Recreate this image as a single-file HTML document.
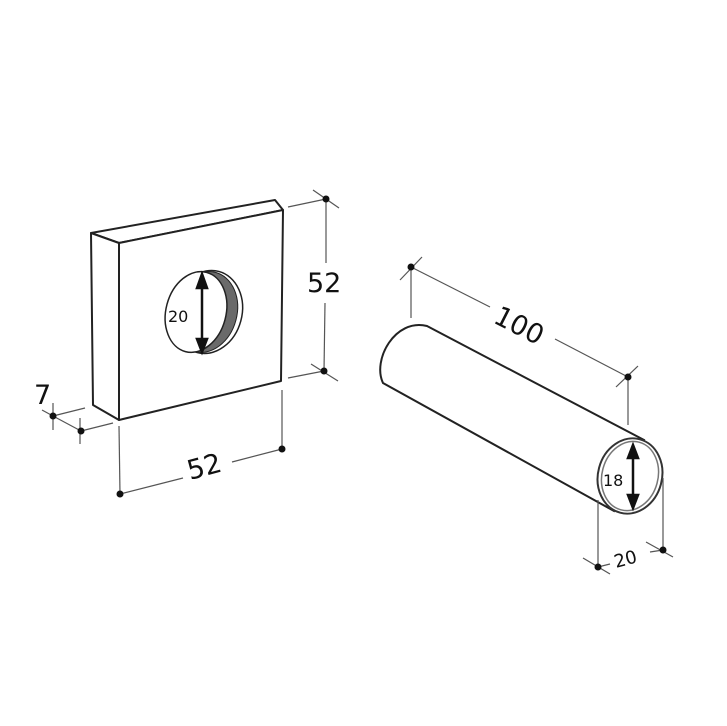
<!DOCTYPE html>
<html><head><meta charset="utf-8"><style>
html,body{margin:0;padding:0;background:#fff;width:727px;height:726px;overflow:hidden}
svg{display:block}
text{font-family:"DejaVu Sans","Liberation Sans",sans-serif;fill:#111}
</style></head><body>
<svg width="727" height="726" viewBox="0 0 727 726" xmlns="http://www.w3.org/2000/svg">
<g fill="none" stroke="#222" stroke-width="2" stroke-linejoin="round">
<path d="M91,233 L275,200 L283,210 L119,243 Z" fill="#fff"/>
<path d="M91,233 L119,243 L119,420 L93,405 Z" fill="#fff"/>
<path d="M119,243 L283,210 L281,381 L119,420 Z" fill="#fff"/>
</g>
<ellipse cx="208" cy="312" rx="34" ry="42" transform="rotate(15 208 312)" fill="#fff" stroke="#222" stroke-width="1.5"/>
<ellipse cx="205" cy="312" rx="32" ry="41" transform="rotate(15 205 312)" fill="#6a6a6a" stroke="#222" stroke-width="1"/>
<ellipse cx="196" cy="312" rx="30" ry="41" transform="rotate(15 196 312)" fill="#fff" stroke="#222" stroke-width="1.5"/>
<g stroke="#111" stroke-width="2.5" fill="#111">
<line x1="202" y1="285" x2="202" y2="342"/>
<path d="M202,274 L197,288 L207,288 Z"/>
<path d="M202,352 L197,339 L207,339 Z"/>
</g>
<text x="168" y="322" font-size="16">20</text>
<g stroke="#555" stroke-width="1.2" fill="none">
<line x1="288" y1="207" x2="326" y2="199"/>
<line x1="288" y1="378" x2="324" y2="371"/>
<line x1="326" y1="199" x2="326" y2="263"/>
<line x1="325" y1="303" x2="324" y2="371"/>
<line x1="313" y1="190" x2="339" y2="208"/>
<line x1="311" y1="364" x2="338" y2="381"/>
<line x1="119" y1="426" x2="120" y2="494"/>
<line x1="282" y1="390" x2="282" y2="449"/>
<line x1="120" y1="494" x2="183" y2="478"/>
<line x1="232" y1="462" x2="282" y2="449"/>
<line x1="53" y1="416" x2="85" y2="408"/>
<line x1="81" y1="431" x2="113" y2="423"/>
<line x1="53" y1="416" x2="81" y2="431"/>
<line x1="53" y1="403" x2="53" y2="430"/>
<line x1="80" y1="418" x2="80" y2="444"/>
<line x1="42" y1="410" x2="53" y2="416"/>
</g>
<g fill="#111">
<circle cx="326" cy="199" r="3.5"/><circle cx="324" cy="371" r="3.5"/>
<circle cx="120" cy="494" r="3.5"/><circle cx="282" cy="449" r="3.5"/>
<circle cx="53" cy="416" r="3.5"/><circle cx="81" cy="431" r="3.5"/>
</g>
<text x="307" y="292" font-size="27">52</text>
<text x="0" y="0" font-size="27" transform="translate(190,480) rotate(-15)">52</text>
<text x="34" y="404" font-size="27">7</text>
<g fill="#fff" stroke="#222" stroke-width="2">
<path d="M427,326 L644,440 L614,511 L383,383 C372,360 395,318 427,326 Z"/>
</g>
<ellipse cx="630" cy="476" rx="32" ry="38" transform="rotate(15 630 476)" fill="#fff" stroke="#333" stroke-width="2"/>
<ellipse cx="630" cy="476" rx="28" ry="35" transform="rotate(15 630 476)" fill="none" stroke="#777" stroke-width="1.5"/>
<g stroke="#111" stroke-width="2.5" fill="#111">
<line x1="633" y1="456" x2="633" y2="497"/>
<path d="M633,445 L628,458 L638,458 Z"/>
<path d="M633,508 L628,495 L638,495 Z"/>
</g>
<text x="603" y="486" font-size="16">18</text>
<g stroke="#555" stroke-width="1.2" fill="none">
<line x1="411" y1="267" x2="411" y2="318"/>
<line x1="628" y1="377" x2="628" y2="425"/>
<line x1="411" y1="267" x2="490" y2="307"/>
<line x1="555" y1="339" x2="628" y2="377"/>
<line x1="400" y1="280" x2="422" y2="257"/>
<line x1="616" y1="387" x2="638" y2="366"/>
<line x1="598" y1="500" x2="598" y2="567"/>
<line x1="663" y1="478" x2="663" y2="550"/>
<line x1="583" y1="558" x2="610" y2="574"/>
<line x1="646" y1="542" x2="673" y2="557"/>
<line x1="598" y1="567" x2="610" y2="564"/>
<line x1="650" y1="552" x2="663" y2="550"/>
</g>
<g fill="#111">
<circle cx="411" cy="267" r="3.5"/><circle cx="628" cy="377" r="3.5"/>
<circle cx="598" cy="567" r="3.5"/><circle cx="663" cy="550" r="3.5"/>
</g>
<text x="0" y="0" font-size="27" transform="translate(492,322) rotate(27)">100</text>
<text x="0" y="0" font-size="18" transform="translate(616,568) rotate(-15)">20</text>
</svg>
</body></html>
